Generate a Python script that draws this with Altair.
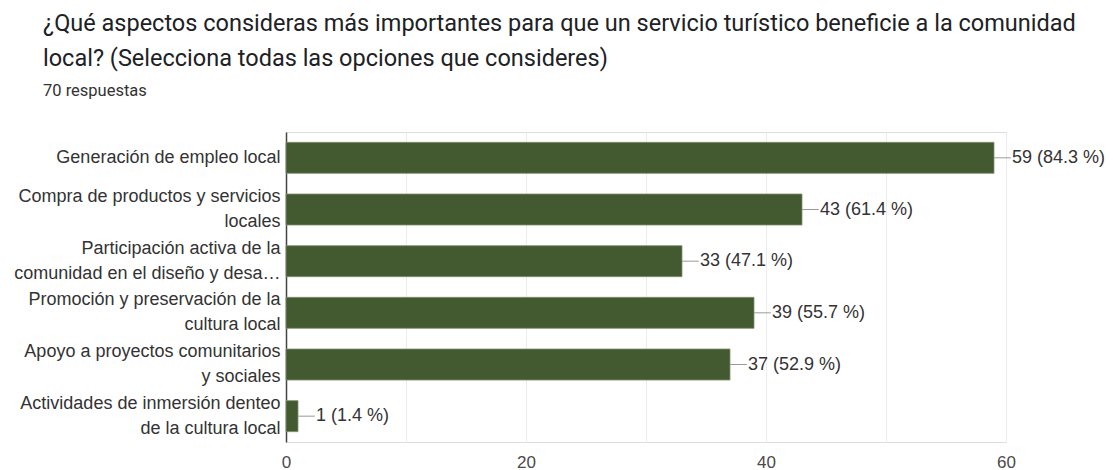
import altair as alt
import pandas as pd

# Survey options (line breaks mark how each label wraps) and response counts
categories = [
    "Generación de empleo local",
    "Compra de productos y servicios\nlocales",
    "Participación activa de la\ncomunidad en el diseño y desa…",
    "Promoción y preservación de la\ncultura local",
    "Apoyo a proyectos comunitarios\ny sociales",
    "Actividades de inmersión denteo\nde la cultura local",
]
counts = [59, 43, 33, 39, 37, 1]
percents = [84.3, 61.4, 47.1, 55.7, 52.9, 1.4]

df = pd.DataFrame({"cat": categories, "n": counts, "pct": percents})
df["label"] = [f"{n} ({p} %)" for n, p in zip(counts, percents)]

# two-line labels are lifted by half a line so the block centres on the bar
two_line = "indexof(datum.value, '\\n') >= 0"

y_enc = alt.Y(
    "cat:N",
    sort=categories,
    title=None,
    scale=alt.Scale(paddingInner=0.4, paddingOuter=0.2),
    axis=alt.Axis(
        labelExpr="split(datum.label, '\\n')",
        labelFont="Liberation Sans",
        labelFontSize=18,
        labelColor="#333333",
        labelLineHeight=25,
        labelPadding=6,
        labelLimit=320,
        labelOffset={"condition": {"test": two_line, "value": -12.5}, "value": 0},
        ticks=False,
        domainColor="#444444",
        domainWidth=1.5,
        grid=False,
    ),
)

x_enc = alt.X(
    "n:Q",
    title=None,
    scale=alt.Scale(domain=[0, 60], nice=False),
    axis=alt.Axis(
        values=[0, 10, 20, 30, 40, 50, 60],
        labelExpr="datum.value % 20 == 0 ? datum.label : ''",
        labelFont="Liberation Sans",
        labelFontSize=17,
        labelColor="#4a4a4a",
        labelPadding=12,
        labelFlush=False,
        ticks=False,
        domain=False,
        gridColor="#ececec",
        gridWidth=1,
    ),
)

bars = alt.Chart(df).mark_bar(
    color="#435a30", stroke="#7d8f6f", strokeWidth=0.8
).encode(x=x_enc, y=y_enc)

leaders = alt.Chart(df).transform_calculate(
    x_end="datum.n + 1.4"
).mark_rule(color="#9a9a9a", strokeWidth=1).encode(
    x="n:Q", x2="x_end:Q", y=alt.Y("cat:N", sort=categories)
)

values = alt.Chart(df).mark_text(
    align="left", baseline="middle", dx=18,
    font="Liberation Sans", fontSize=18, color="#333333"
).encode(x="n:Q", y=alt.Y("cat:N", sort=categories), text="label:N")

chart = alt.layer(bars, leaders, values).properties(
    width=720,
    height=310,
    autosize=alt.AutoSizeParams(type="none"),
    padding={"left": 286, "top": 132, "right": 107, "bottom": 28},
    title=alt.TitleParams(
        text=[
            "¿Qué aspectos consideras más importantes para que un servicio turístico beneficie a la comunidad",
            "local? (Selecciona todas las opciones que consideres)",
        ],
        subtitle="70 respuestas",
        anchor="start",
        frame="group",
        dx=-243,
        offset=33,
        font="Roboto",
        fontSize=23.5,
        fontWeight="normal",
        color="#202124",
        lineHeight=35,
        subtitleFont="Roboto",
        subtitleFontSize=16.5,
        subtitleColor="#333333",
        subtitlePadding=12,
    ),
).configure_view(stroke="#e3e3e3", strokeWidth=1).configure(background="white")

chart.save("out.html", embed_options={"renderer": "svg", "actions": False})
